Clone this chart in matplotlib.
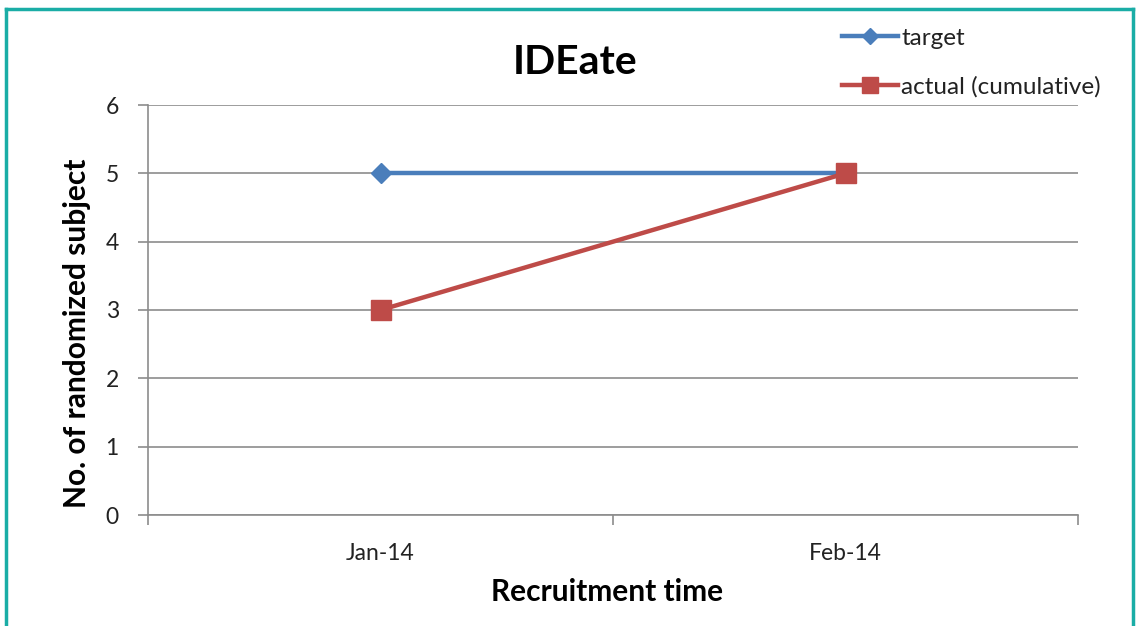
import matplotlib.pyplot as plt
from matplotlib.lines import Line2D

months = ['Jan-14', 'Feb-14']
target = [5, 5]
actual = [3, 5]

plt.rcParams['font.family'] = ['Lato', 'DejaVu Sans']

W, H = 1136, 626
fig = plt.figure(figsize=(W / 100, H / 100), dpi=100)
ax = fig.add_axes([148 / W, 1 - 515 / H, 930 / W, 410 / H])

grid_color = '#8c8c8c'
text_color = '#222222'
x = list(range(len(months)))

ax.plot(x, target, color='#4a7ebb', lw=3.2, marker='D', ms=10,
        label='target', zorder=3)
ax.plot(x, actual, color='#be4b48', lw=3.2, marker='s', ms=14,
        label='actual (cumulative)', zorder=4)

ax.set_xlim(-0.5, 1.5)
ax.set_ylim(0, 6)
ax.set_yticks(range(0, 7))
ax.yaxis.grid(True, color=grid_color, lw=1.2)
ax.set_axisbelow(True)

# category boundaries carry the tick marks, labels sit between them
ax.set_xticks([-0.5, 0.5, 1.5])
ax.set_xticklabels([])
ax.set_xticks(x, minor=True)
ax.set_xticklabels(months, minor=True)
ax.tick_params(axis='x', which='minor', length=0, pad=20, labelsize=16.5, labelcolor=text_color)
ax.tick_params(axis='x', which='major', length=7, width=1.2, color=grid_color)
ax.tick_params(axis='y', length=7, width=1.2, color=grid_color, pad=14,
               labelsize=16.5, labelcolor=text_color)

for side in ['top', 'right']:
    ax.spines[side].set_visible(False)
for side in ['left', 'bottom']:
    ax.spines[side].set_color(grid_color)
    ax.spines[side].set_linewidth(1.2)

fig.text(77 / W, 1 - 333 / H, 'No. of randomized subject', fontsize=21.5,
         fontweight='bold', rotation=90, ha='center', va='center')
fig.text(607 / W, 1 - 592 / H, 'Recruitment time', fontsize=21.5,
         fontweight='bold', ha='center', va='center')
fig.text(575 / W, 1 - 62 / H, 'IDEate', fontsize=29.5, fontweight='bold',
         ha='center', va='center')

fig.legend(loc='upper left', bbox_to_anchor=(820 / W, 1 - 6 / H), frameon=False,
           fontsize=17.5, labelspacing=1.1, handlelength=2.3, handletextpad=0.15,
           labelcolor=text_color, markerscale=0.85)

# teal frame around the chart
teal = '#1aada6'
for xs, ys in [((6, 1133), (9, 9)), ((6, 6), (9, H)), ((1133, 1133), (9, H))]:
    fig.add_artist(Line2D([v / W for v in xs], [1 - v / H for v in ys],
                          color=teal, lw=2.5))

fig.savefig('out.png', dpi=100)
